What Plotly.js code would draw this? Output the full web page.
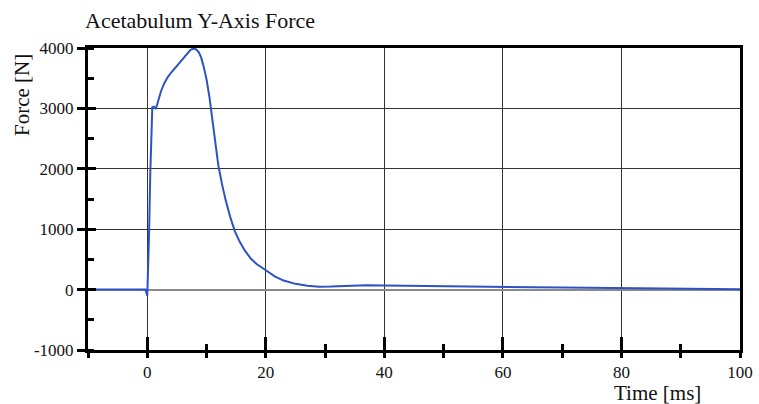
<!DOCTYPE html>
<html>
<head>
<meta charset="utf-8">
<script src="https://cdn.plot.ly/plotly-3.0.1.min.js"></script>
<style>html,body{margin:0;padding:0;background:#fff;}#chart{width:759px;height:404px;}</style>
</head>
<body>
<div id="chart"></div>
<script>
const chartTitle = "Acetabulum Y-Axis Force";
const xTitle = "Time [ms]";
const yTitle = "Force [N]";
const xTickVals = [0, 20, 40, 60, 80, 100];
const xTickText = ["0", "20", "40", "60", "80", "100"];
const yTickVals = [-1000, 0, 1000, 2000, 3000, 4000];
const yTickText = ["-1000", "0", "1000", "2000", "3000", "4000"];
const time = [-10, -5, -1, -0.3, 0, 0.15, 0.3, 0.5, 0.7, 0.85, 1.1, 1.4, 1.6, 1.9, 2.3, 2.8, 3.4, 4.0, 4.8, 5.5, 6.2, 6.8, 7.3, 7.8, 8.2, 8.7, 9.1, 9.5, 10.0, 10.5, 11.0, 11.5, 12.0, 12.6, 13.2, 14.0, 14.8, 15.6, 16.5, 17.5, 18.5, 20.0, 21.5, 23.0, 25.0, 27.0, 29.0, 31, 34, 37, 40, 45, 50, 55, 60, 65, 70, 75, 80, 85, 90, 95, 100];
const force = [0, 0, 0, 0, -100, 300, 900, 1900, 2900, 3020, 3030, 3000, 3040, 3150, 3280, 3400, 3510, 3590, 3680, 3760, 3840, 3910, 3970, 3990, 3980, 3930, 3840, 3700, 3480, 3180, 2800, 2480, 2050, 1750, 1490, 1200, 960, 790, 640, 510, 420, 320, 220, 150, 95, 62, 48, 50, 65, 70, 68, 60, 50, 48, 42, 38, 35, 28, 22, 18, 12, 8, 5];

const serif = "Liberation Serif, Times New Roman, serif";
const traces = [
  {x: time, y: force, type: "scatter", mode: "lines", line: {color: "#2d52c4", width: 2}, hoverinfo: "skip", showlegend: false},
  {x: time, y: force, xaxis: "x2", yaxis: "y2", type: "scatter", mode: "lines", opacity: 0, hoverinfo: "skip", showlegend: false}
];
const layout = {
  width: 759, height: 404,
  margin: {l: 88, r: 19, t: 48, b: 54},
  paper_bgcolor: "#fff", plot_bgcolor: "#fff",
  showlegend: false,
  title: {text: chartTitle, font: {family: serif, size: 22, color: "#111"}, x: 85/759, xanchor: "left", xref: "container", y: 1 - 20/404, yanchor: "middle", yref: "container"},
  xaxis: {
    range: [-10, 100], tickmode: "array", tickvals: xTickVals, ticktext: xTickText, showgrid: true, gridcolor: "#333", gridwidth: 1,
    zeroline: false, showline: true, linecolor: "#000", linewidth: 3, mirror: true,
    ticks: "inside", ticklen: 13, tickwidth: 3, tickcolor: "#000",
    ticklabelstandoff: 5,
    tickfont: {family: serif, size: 17, color: "#111"},
    minor: {dtick: 10, tick0: 0, ticks: "inside", ticklen: 6, tickwidth: 3, tickcolor: "#000", showgrid: false}
  },
  xaxis2: {
    overlaying: "x", anchor: "y", range: [-10, 100], tick0: 0, dtick: 10, showgrid: false, zeroline: false,
    showline: false, ticks: "outside", ticklen: 7, tickwidth: 3, tickcolor: "#000", showticklabels: false, side: "bottom"
  },
  yaxis: {
    range: [-1000, 4000], tickmode: "array", tickvals: yTickVals, ticktext: yTickText, showgrid: true, gridcolor: "#333", gridwidth: 1,
    zeroline: true, zerolinecolor: "#8a8a8a", zerolinewidth: 2,
    showline: true, linecolor: "#000", linewidth: 3, mirror: true,
    ticks: "outside", ticklen: 8, tickwidth: 3, tickcolor: "#000",
    tickfont: {family: serif, size: 17, color: "#111"},
    minor: {dtick: 500, tick0: 0, ticks: "inside", ticklen: 6, tickwidth: 3, tickcolor: "#000", showgrid: false}
  },
  yaxis2: {
    overlaying: "y", anchor: "x", range: [-1000, 4000], tick0: 0, dtick: 1000, showgrid: false, zeroline: false,
    showline: false, ticks: "inside", ticklen: 8, tickwidth: 3, tickcolor: "#000", showticklabels: false, side: "left"
  },
  annotations: [
    {text: yTitle, xref: "paper", yref: "paper", x: (22 - 88) / 652, y: (350 - 95) / 302, textangle: -90, showarrow: false, font: {family: serif, size: 21, color: "#111"}, xanchor: "center", yanchor: "middle"},
    {text: xTitle, xref: "paper", yref: "paper", x: (657 - 88) / 652, y: (350 - 393) / 302, showarrow: false, font: {family: serif, size: 21, color: "#111"}, xanchor: "center", yanchor: "middle"}
  ]
};
Plotly.newPlot("chart", traces, layout, {displayModeBar: false, staticPlot: true});
</script>
</body>
</html>
